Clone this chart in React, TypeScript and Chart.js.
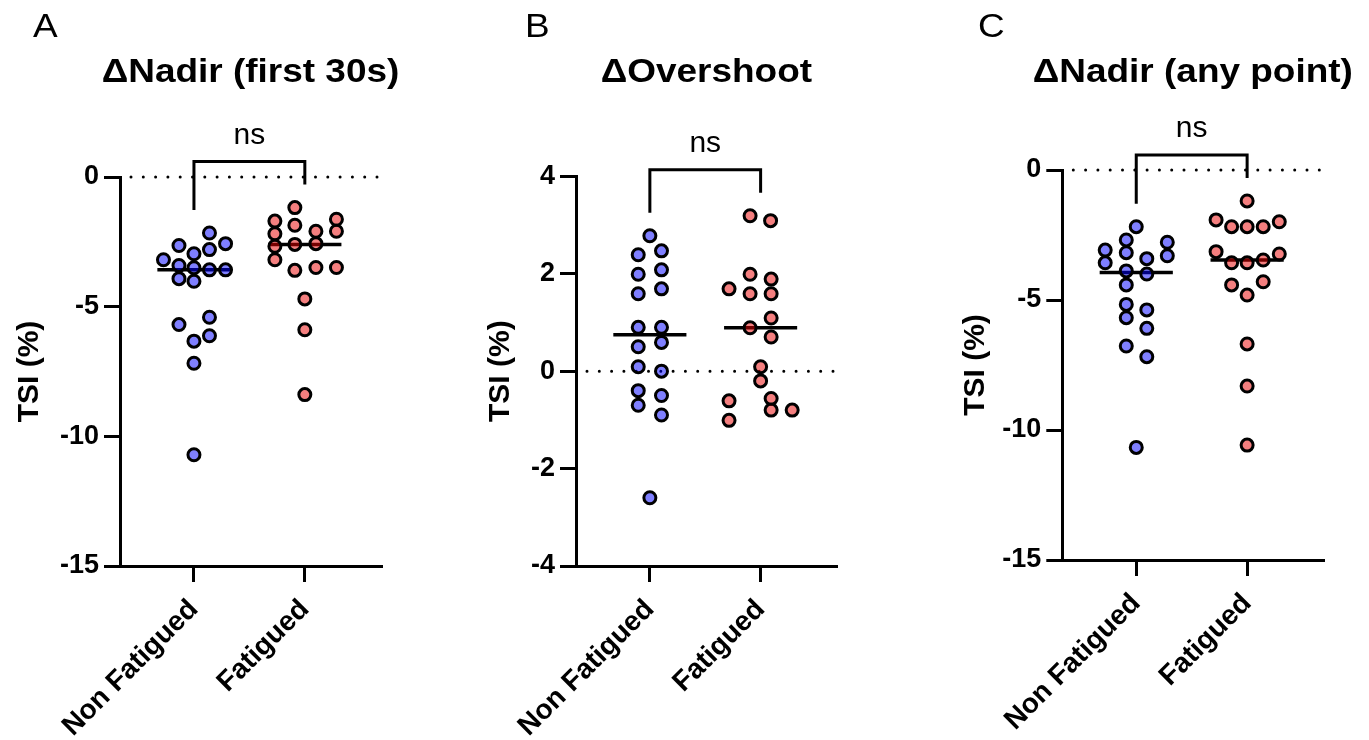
import React, { useEffect, useRef } from 'react';
import { Chart, registerables } from 'chart.js';

Chart.register(...registerables);

const FONT = '"Liberation Sans", Arial, Helvetica, sans-serif';

// ---------- data ----------
const categories = ['Non Fatigued', 'Fatigued'];

// Panel A: ΔNadir (first 30s)
const nadir30Ticks = [0, -5, -10, -15];
const nadir30NonFatigued = [-2.16, -2.64, -2.57, -2.8, -2.96, -3.19, -3.41, -3.5, -3.58, -3.58, -3.92, -4.02, -5.41, -5.69, -6.12, -6.33, -7.18, -10.71];
const nadir30NonFatiguedJitter = [0.14, -0.135, 0.285, 0.14, 0, -0.275, -0.135, 0, 0.14, 0.285, -0.135, 0, 0.14, -0.135, 0.14, 0, 0, 0];
const nadir30Fatigued = [-1.18, -1.7, -1.63, -1.86, -2.19, -2.09, -2.09, -2.67, -2.6, -2.57, -3.19, -3.6, -3.49, -3.49, -4.7, -5.89, -8.39];
const nadir30FatiguedJitter = [-0.09, -0.27, 0.285, -0.09, -0.27, 0.1, 0.285, -0.27, -0.09, 0.1, -0.27, -0.09, 0.1, 0.285, 0, 0, 0];

// Panel B: ΔOvershoot
const overshootTicks = [4, 2, 0, -2, -4];
const overshootNonFatigued = [2.78, 2.39, 2.47, 1.99, 2.08, 1.59, 1.69, 0.9, 0.9, 0.5, 0.59, 0.09, 0.0, -0.4, -0.5, -0.7, -0.9, -2.6];
const overshootNonFatiguedJitter = [0, -0.105, 0.105, -0.105, 0.105, -0.105, 0.105, -0.105, 0.105, -0.105, 0.105, -0.105, 0.105, -0.105, 0.105, -0.105, 0.105, 0];
const overshootFatigued = [3.19, 3.09, 1.69, 1.99, 1.89, 1.59, 1.59, 1.09, 0.89, 0.7, 0.09, -0.2, -0.61, -0.56, -0.8, -0.8, -1.01];
const overshootFatiguedJitter = [-0.095, 0.09, -0.285, -0.095, 0.095, -0.095, 0.095, 0.095, -0.095, 0.095, 0, 0, -0.285, 0.095, 0.095, 0.285, -0.285];

// Panel C: ΔNadir (any point)
const nadirAnyTicks = [0, -5, -10, -15];
const nadirAnyNonFatigued = [-2.18, -2.69, -3.08, -3.18, -2.78, -3.3, -3.41, -3.57, -3.88, -4.0, -4.42, -5.17, -5.68, -5.38, -6.09, -6.77, -7.18, -10.67];
const nadirAnyNonFatiguedJitter = [0, -0.09, -0.28, -0.09, 0.28, 0.28, 0.095, -0.28, -0.09, 0.095, -0.09, -0.09, -0.09, 0.095, 0.095, -0.09, 0.095, 0];
const nadirAnyFatigued = [-1.19, -1.92, -2.18, -2.18, -2.18, -1.99, -3.14, -3.57, -3.57, -3.46, -3.23, -4.42, -4.3, -4.81, -6.69, -8.31, -10.58];
const nadirAnyFatiguedJitter = [0, -0.28, -0.14, 0, 0.145, 0.29, -0.28, -0.14, 0, 0.145, 0.29, -0.14, 0.145, 0, 0, 0, 0];

// ---------- styling / layout ----------
const groupFill = ['rgba(0, 0, 255, 0.5)', 'rgba(234, 0, 0, 0.5)'];

type Panel = {
  letter: string;
  title: string;
  groups: number[][];
  jitters: number[][];
  ticks: number[];
  yMin: number;
  yMax: number;
  left: number;
  width: number;
  axisLeft: number;
  plotRight: number;
  plotTop: number;
  plotBottom: number;
  yTitleCenter: number;
  letterX: number;
};

const panels: Panel[] = [
  {
    letter: 'A', title: 'ΔNadir (first 30s)',
    groups: [nadir30NonFatigued, nadir30Fatigued],
    jitters: [nadir30NonFatiguedJitter, nadir30FatiguedJitter],
    ticks: nadir30Ticks, yMin: -15, yMax: 0,
    left: 0, width: 456, axisLeft: 120, plotRight: 381, plotTop: 177, plotBottom: 566,
    yTitleCenter: 30, letterX: 33,
  },
  {
    letter: 'B', title: 'ΔOvershoot',
    groups: [overshootNonFatigued, overshootFatigued],
    jitters: [overshootNonFatiguedJitter, overshootFatiguedJitter],
    ticks: overshootTicks, yMin: -4, yMax: 4,
    left: 456, width: 456, axisLeft: 576, plotRight: 836.7, plotTop: 176.3, plotBottom: 566,
    yTitleCenter: 501, letterX: 525,
  },
  {
    letter: 'C', title: 'ΔNadir (any point)',
    groups: [nadirAnyNonFatigued, nadirAnyFatigued],
    jitters: [nadirAnyNonFatiguedJitter, nadirAnyFatiguedJitter],
    ticks: nadirAnyTicks, yMin: -15, yMax: 0,
    left: 912, width: 457, axisLeft: 1062.3, plotRight: 1323.3, plotTop: 170, plotBottom: 560,
    yTitleCenter: 976, letterX: 978,
  },
];

const X_MIN = -0.667;
const X_MAX = 1.687;
const MEDIAN_HALF = 0.33;
const TEXT_STRETCH = 1.12;

function median(arr: number[]): number {
  const s = [...arr].sort((a, b) => a - b);
  const n = s.length;
  return n % 2 ? s[(n - 1) / 2] : (s[n / 2 - 1] + s[n / 2]) / 2;
}

function drawText(ctx: CanvasRenderingContext2D, text: string, x: number, y: number, font: string, align: CanvasTextAlign, sx: number) {
  ctx.save();
  ctx.font = font;
  ctx.textAlign = align;
  ctx.textBaseline = 'alphabetic';
  ctx.translate(x, y);
  ctx.scale(sx, 1);
  ctx.fillText(text, 0, 0);
  ctx.restore();
}

function makePlugin(p: Panel) {
  return {
    id: 'panelDecor' + p.letter,
    beforeDatasetsDraw(chart: any) {
      const { ctx, chartArea, scales } = chart;
      const x = scales.x;
      const y = scales.y;
      ctx.save();
      // dotted zero line
      const y0 = y.getPixelForValue(0);
      ctx.strokeStyle = '#000';
      ctx.lineWidth = 3;
      ctx.lineCap = 'round';
      ctx.setLineDash([0, 12.3]);
      ctx.beginPath();
      ctx.moveTo(chartArea.left + 11, y0);
      ctx.lineTo(chartArea.right - 2, y0);
      ctx.stroke();
      ctx.setLineDash([]);
      ctx.lineCap = 'butt';
      // median lines
      ctx.lineWidth = 3.5;
      p.groups.forEach((vals, i) => {
        const py = y.getPixelForValue(median(vals));
        ctx.beginPath();
        ctx.moveTo(x.getPixelForValue(i - MEDIAN_HALF), py);
        ctx.lineTo(x.getPixelForValue(i + MEDIAN_HALF), py);
        ctx.stroke();
      });
      ctx.restore();
    },
    afterDraw(chart: any) {
      const { ctx, chartArea, scales } = chart;
      const x = scales.x;
      const y = scales.y;
      ctx.save();
      ctx.fillStyle = '#000';
      // panel letter
      drawText(ctx, p.letter, p.letterX - p.left, 37, `33px ${FONT}`, 'left', TEXT_STRETCH);
      // title
      drawText(ctx, p.title, (chartArea.left + chartArea.right) / 2, 82, `bold 33px ${FONT}`, 'center', TEXT_STRETCH);
      // significance bracket
      const tops = p.groups.map((g) => y.getPixelForValue(Math.max(...g)));
      const bracketY = Math.min(...tops) - 46;
      const xs = p.groups.map((_, i) => x.getPixelForValue(i));
      ctx.strokeStyle = '#000';
      ctx.lineWidth = 3;
      ctx.lineJoin = 'miter';
      ctx.beginPath();
      ctx.moveTo(xs[0], tops[0] - 23);
      ctx.lineTo(xs[0], bracketY);
      ctx.lineTo(xs[1], bracketY);
      ctx.lineTo(xs[1], tops[1] - 23);
      ctx.stroke();
      drawText(ctx, 'ns', (xs[0] + xs[1]) / 2, bracketY - 18, `30px ${FONT}`, 'center', 1);
      ctx.restore();
    },
  };
}

function PanelChart({ p }: { p: Panel }) {
  const ref = useRef<HTMLCanvasElement | null>(null);
  useEffect(() => {
    if (!ref.current) return;
    const datasets = p.groups.map((vals, g) => ({
      label: categories[g],
      data: vals.map((v, i) => ({ x: g + p.jitters[g][i], y: v })),
      backgroundColor: groupFill[g],
      borderColor: '#000',
      borderWidth: 3,
      pointRadius: 6,
      pointHoverRadius: 6,
      clip: false as any,
    }));
    const chart = new Chart(ref.current, {
      type: 'scatter',
      data: { datasets },
      plugins: [makePlugin(p)],
      options: {
        animation: false,
        responsive: false,
        devicePixelRatio: 1,
        events: [],
        layout: {
          padding: {
            left: 0,
            top: p.plotTop,
            right: p.width - (p.plotRight - p.left),
            bottom: 0,
          },
        },
        plugins: {
          legend: { display: false },
          tooltip: { enabled: false },
          title: { display: false },
        },
        scales: {
          x: {
            type: 'linear',
            min: X_MIN,
            max: X_MAX,
            afterBuildTicks: (s: any) => {
              s.ticks = categories.map((_, i) => ({ value: i }));
            },
            afterFit: (s: any) => {
              s.height = 740 - p.plotBottom;
            },
            ticks: {
              autoSkip: false,
              minRotation: 45,
              maxRotation: 45,
              padding: 11,
              color: '#000',
              font: { family: FONT, size: 28, weight: 'bold' },
              callback: (v: any) => categories[Math.round(Number(v))] ?? '',
            },
            grid: {
              drawOnChartArea: false,
              drawTicks: true,
              tickLength: 16,
              lineWidth: 3,
              color: '#000',
            },
            border: { display: true, width: 3, color: '#000' },
          },
          y: {
            type: 'linear',
            min: p.yMin,
            max: p.yMax,
            afterBuildTicks: (s: any) => {
              s.ticks = p.ticks.map((v) => ({ value: v }));
            },
            afterFit: (s: any) => {
              s.width = p.axisLeft - p.left;
            },
            ticks: {
              padding: 5,
              color: '#000',
              font: { family: FONT, size: 27, weight: 'bold' },
              callback: (v: any) => String(v),
            },
            grid: {
              drawOnChartArea: false,
              drawTicks: true,
              tickLength: 16,
              lineWidth: 3,
              color: '#000',
            },
            border: { display: true, width: 3, color: '#000' },
            title: {
              display: true,
              text: 'TSI (%)',
              color: '#000',
              font: { family: FONT, size: 30, weight: 'bold', lineHeight: 1 },
              padding: { top: p.yTitleCenter - p.left - 15, bottom: 0 },
            },
          },
        },
      } as any,
    });
    return () => chart.destroy();
  }, [p]);
  return (
    <div style={{ position: 'absolute', left: p.left, top: 0, width: p.width, height: 740 }}>
      <canvas ref={ref} width={p.width} height={740} style={{ width: p.width, height: 740, display: 'block' }} />
    </div>
  );
}

export default function App() {
  return (
    <div style={{ position: 'absolute', left: 0, top: 0, width: 1369, height: 740, background: '#fff', overflow: 'hidden' }}>
      {panels.map((p) => (
        <PanelChart key={p.letter} p={p} />
      ))}
    </div>
  );
}
